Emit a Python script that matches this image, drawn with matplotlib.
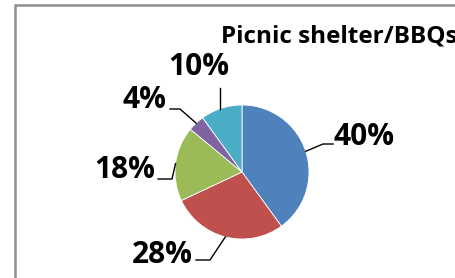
import numpy as np
import matplotlib.pyplot as plt
from matplotlib.patches import Rectangle

# data: slices clockwise from 12 o'clock
labels = ["40%", "28%", "18%", "4%", "10%"]
values = [40, 28, 18, 4, 10]
colors = ["#4F81BD", "#C0504D", "#9BBB59", "#8064A2", "#4BACC6"]
title = "Picnic shelter/BBQs"

W, H = 456, 278
fig = plt.figure(figsize=(W / 100, H / 100), dpi=100)
ax = fig.add_axes([0, 0, 1, 1])
ax.set_xlim(0, W)
ax.set_ylim(0, H)
ax.set_aspect("equal")
ax.axis("off")

# chart frame (cut off at right/bottom like the screenshot)
ax.add_patch(Rectangle((15, -10), 500, H - 5 + 10, fill=False,
                       edgecolor="#8f8f8f", linewidth=1.8))

cx, cy, r = 242, H - 172, 67
wedges, _ = ax.pie(values, colors=colors, startangle=90, counterclock=False,
                   center=(cx, cy), radius=r, frame=True,
                   wedgeprops=dict(edgecolor="white", linewidth=0.6))
ax.set_xlim(0, W)
ax.set_ylim(0, H)
ax.axis("off")

ax.text(221, H - 42, title, fontsize=17.5, fontweight="bold",
        family="Open Sans", ha="left", va="baseline", clip_on=False)

# label placement: (elbow, line end, text pos, ha)
layout = [
    ((323, H - 144), (333, H - 144), (334, H - 137), "left"),
    ((210, H - 260), (196, H - 260), (193, H - 255), "right"),
    ((172, H - 179), (158, H - 179), (155, H - 170), "right"),
    ((180, H - 109), (170, H - 109), (166, H - 100), "right"),
    ((220, H - 88), (220, H - 88), (199, H - 67), "center"),
]
for w, lab, (elbow, end, tpos, ha) in zip(wedges, labels, layout):
    ang = np.deg2rad((w.theta1 + w.theta2) / 2)
    if lab == "10%":
        ex = 220
        ey = cy + np.sqrt(r**2 - (ex - cx) ** 2)
    else:
        ex, ey = cx + r * np.cos(ang), cy + r * np.sin(ang)
    ax.plot([ex, elbow[0], end[0]], [ey, elbow[1], end[1]],
            color="black", linewidth=1)
    ax.text(tpos[0], tpos[1], lab, fontsize=21.5, fontweight="bold",
            family="Open Sans", ha=ha, va="center")

fig.savefig("out.png", dpi=100)
